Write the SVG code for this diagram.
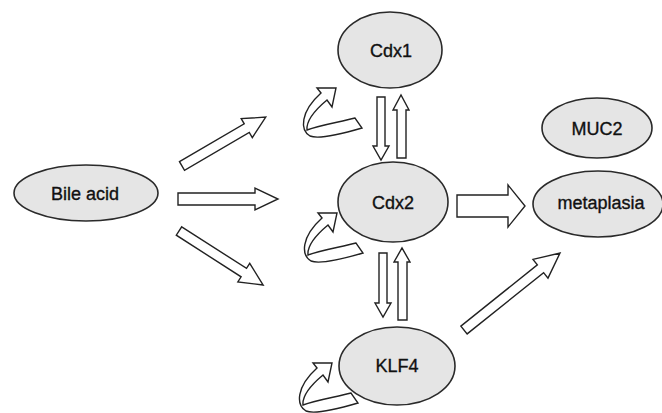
<svg xmlns="http://www.w3.org/2000/svg" xmlns:xlink="http://www.w3.org/1999/xlink" width="662" height="413" viewBox="0 0 662 413">
<style>
.node ellipse{fill:#e5e5e5;stroke:#2a2a2a;stroke-width:1.6}
.node text{font-family:"Liberation Sans",Arial,sans-serif;font-size:18px;fill:#111;stroke:#111;stroke-width:0.35;text-anchor:middle}
.arr{fill:#fff;stroke:#222;stroke-width:1.4;stroke-linejoin:miter}
</style>
<defs>
<path id="loop" d="M 362,128 C 345,133 320,140 310,136 C 300,130 300,112 321,93 L 317,88 L 336,88 L 332,107 L 327,100 C 315,110 306,120 307,130 C 320,125 340,122 355,118 Z"/>
</defs>
<rect width="662" height="413" fill="#fff"/>
<g id="connectors">
<polygon class="arr" points="0,-5 75,-5 75,-11 97,0 75,11 75,5 0,5" transform="translate(182,166) rotate(-30.3)"/>
<polygon class="arr" points="178,193 255,193 255,188 278,199 255,210 255,205 178,205"/>
<polygon class="arr" points="0,-5 77,-5 77,-11 100,0 77,11 77,5 0,5" transform="translate(179,231) rotate(32.7)"/>
<polygon class="arr" points="0,-5 98,-5 98,-12 123,0 98,12 98,5 0,5" transform="translate(464,330) rotate(-38.7)"/>
<polygon class="arr" points="457,195 508,195 508,185 525,206 508,227 508,217 457,217"/>
<polygon class="arr" points="377,97 385,97 385,146 389,146 381,160 373,146 377,146"/>
<polygon class="arr" points="397,158 406,158 406,110 409,110 401,95 393,110 397,110"/>
<polygon class="arr" points="379,253 387,253 387,303 391,303 383,317 375,303 379,303"/>
<polygon class="arr" points="398,320 407,320 407,262 410,262 402,248 394,262 398,262"/>
<use href="#loop" xlink:href="#loop" class="arr"/>
<use href="#loop" xlink:href="#loop" class="arr" transform="translate(1,125)"/>
<use href="#loop" xlink:href="#loop" class="arr" transform="translate(-4,275)"/>
</g>
<g id="bile-acid" class="node"><ellipse cx="86" cy="193" rx="72" ry="28"/><text x="85" y="200">Bile acid</text></g>
<g id="cdx1" class="node"><ellipse cx="390" cy="50" rx="52" ry="38"/><text x="391" y="57">Cdx1</text></g>
<g id="cdx2" class="node"><ellipse cx="393" cy="202" rx="55" ry="40"/><text x="393" y="209">Cdx2</text></g>
<g id="klf4" class="node"><ellipse cx="397" cy="366" rx="58" ry="39"/><text x="397" y="372">KLF4</text></g>
<g id="muc2" class="node"><ellipse cx="597" cy="128" rx="55" ry="30"/><text x="597" y="135">MUC2</text></g>
<g id="metaplasia" class="node"><ellipse cx="598" cy="204" rx="65" ry="33"/><text x="601" y="209">metaplasia</text></g>
</svg>
